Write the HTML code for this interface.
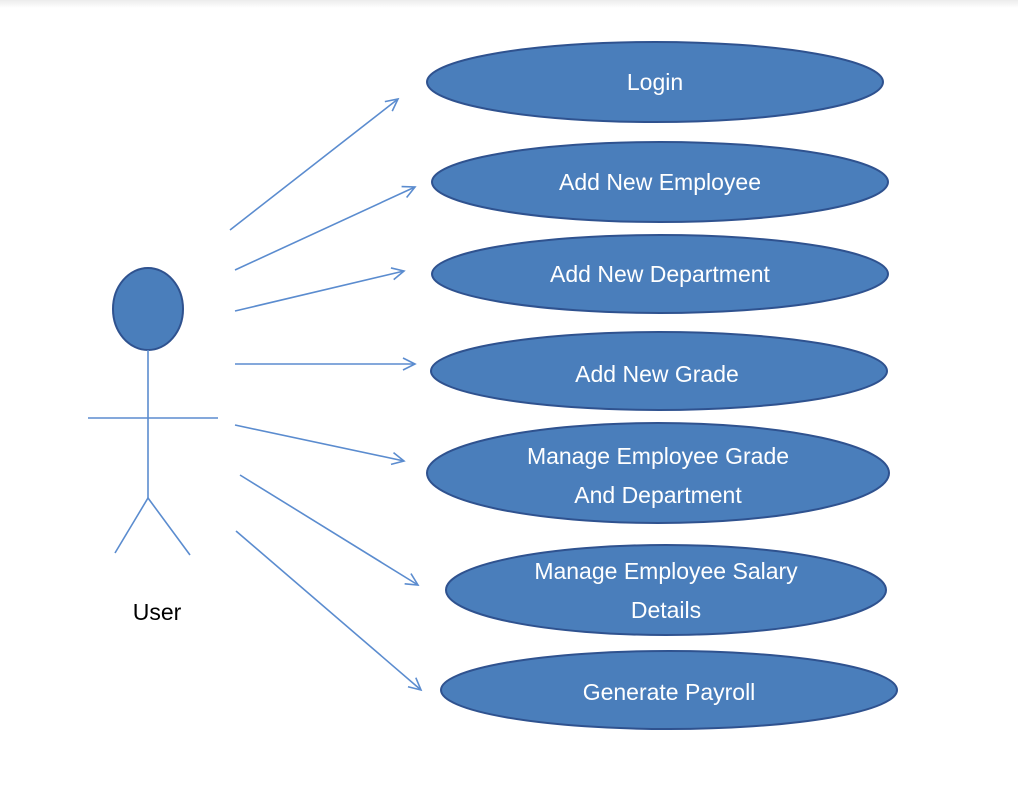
<!DOCTYPE html>
<html><head><style>
body{margin:0;background:#fff;}
svg{display:block;}
text{font-family:"Liberation Sans Narrow","Liberation Sans",sans-serif;font-size:23px;}
</style></head><body>
<svg width="1018" height="791" viewBox="0 0 1018 791">
<defs>
<linearGradient id="g" x1="0" y1="0" x2="0" y2="1"><stop offset="0" stop-color="#ececec"/><stop offset="1" stop-color="#fff"/></linearGradient>
<marker id="a" markerWidth="16" markerHeight="16" refX="13" refY="8" orient="auto" markerUnits="userSpaceOnUse">
<path d="M1,2 L13,8 L1,14" fill="none" stroke="#5b8ccf" stroke-width="1.6"/></marker>
</defs>
<rect x="0" y="0" width="1018" height="8" fill="url(#g)"/>
<g stroke="#5b8ccf" stroke-width="1.6" marker-end="url(#a)">
<line x1="230" y1="230" x2="398" y2="99"/>
<line x1="235" y1="270" x2="415" y2="187"/>
<line x1="235" y1="311" x2="404" y2="271"/>
<line x1="235" y1="364" x2="415" y2="364"/>
<line x1="235" y1="425" x2="404" y2="461"/>
<line x1="240" y1="475" x2="418" y2="585"/>
<line x1="236" y1="531" x2="421" y2="690"/>
</g>
<g fill="#4a7ebb" stroke="#2f528f" stroke-width="2">
<ellipse cx="655" cy="82" rx="228" ry="40"/>
<ellipse cx="660" cy="182" rx="228" ry="40"/>
<ellipse cx="660" cy="274" rx="228" ry="39"/>
<ellipse cx="659" cy="371" rx="228" ry="39"/>
<ellipse cx="658" cy="473" rx="231" ry="50"/>
<ellipse cx="666" cy="590" rx="220" ry="45"/>
<ellipse cx="669" cy="690" rx="228" ry="39"/>
<ellipse cx="148" cy="309" rx="35" ry="41"/>
</g>
<g stroke="#5b8ccf" stroke-width="1.6" fill="none">
<line x1="148" y1="350" x2="148" y2="498"/>
<line x1="88" y1="418" x2="218" y2="418"/>
<polyline points="115,553 148,498 190,555"/>
</g>
<g fill="#fff" text-anchor="middle">
<text x="655" y="90">Login</text>
<text x="660" y="190">Add  New Employee</text>
<text x="660" y="282">Add  New Department</text>
<text x="657" y="382">Add  New Grade</text>
<text x="658" y="464">Manage Employee Grade</text>
<text x="658" y="503">And  Department</text>
<text x="666" y="579">Manage Employee Salary</text>
<text x="666" y="618">Details</text>
<text x="669" y="700">Generate Payroll</text>
</g>
<text x="157" y="620" text-anchor="middle" fill="#000">User</text>
</svg>
</body></html>
